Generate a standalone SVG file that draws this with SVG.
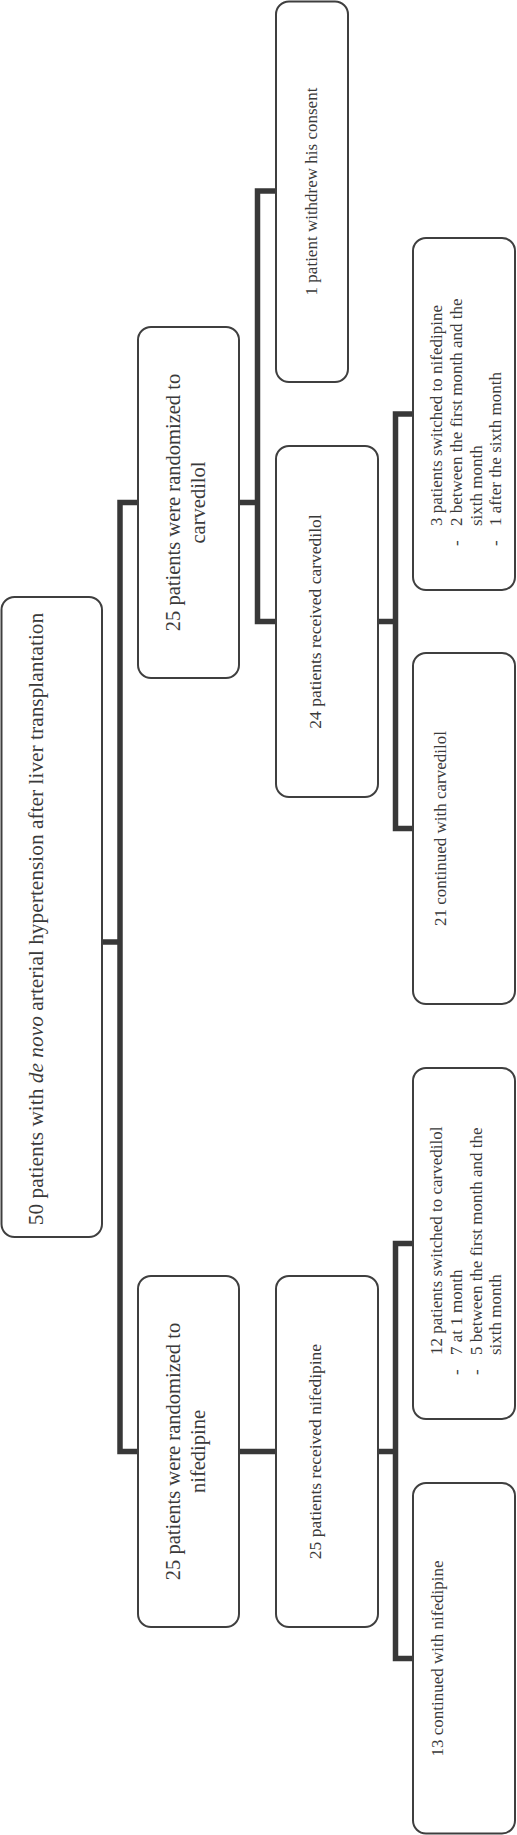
<svg xmlns="http://www.w3.org/2000/svg" width="517" height="1835" viewBox="0 0 517 1835">
<style>
.box{fill:#fff;stroke:#3f3f3f;stroke-width:2}
.con{fill:none;stroke:#383838;stroke-width:5.5;stroke-linejoin:miter;stroke-linecap:square}
text{font-family:"Liberation Serif","Times New Roman",serif;fill:#3a3a3a}
.big{font-size:20.5px}
.sm{font-size:17px}
.mid{text-anchor:middle}
</style>
<rect width="517" height="1835" fill="#fff"/>
<g id="connectors">
<path class="con" d="M102,942 H120 M138,502.5 H120 V1451.5 H138"/>
<path class="con" d="M239,502.5 H257.5 M276,191 H257.5 V621.5 H276"/>
<path class="con" d="M378,621.5 H395.5 M413,414 H395.5 V828.5 H413"/>
<path class="con" d="M239,1451.5 H276 M378,1451.5 H395.5 M413,1243.5 H395.5 V1658.5 H413"/>
</g>
<g id="root">
<rect class="box" x="1.5" y="597" width="100.5" height="640" rx="13"/>
<text transform="translate(43,919) rotate(-90)" class="mid" font-size="21.4">50 patients with <tspan font-style="italic">de novo</tspan> arterial hypertension after liver transplantation</text>
</g>
<g id="rand-carvedilol">
<rect class="box" x="138" y="327" width="101" height="351" rx="13"/>
<text transform="translate(0,502.5) rotate(-90)" class="mid big"><tspan x="0" y="180">25 patients were randomized to</tspan><tspan x="0" y="205">carvedilol</tspan></text>
</g>
<g id="rand-nifedipine">
<rect class="box" x="138" y="1276" width="101" height="351" rx="13"/>
<text transform="translate(0,1451.5) rotate(-90)" class="mid big"><tspan x="0" y="180">25 patients were randomized to</tspan><tspan x="0" y="205">nifedipine</tspan></text>
</g>
<g id="withdrew">
<rect class="box" x="276" y="1.5" width="72" height="380.5" rx="13"/>
<text transform="translate(317,191.5) rotate(-90)" class="mid sm">1 patient withdrew his consent</text>
</g>
<g id="recv-carvedilol">
<rect class="box" x="276" y="446" width="102" height="351" rx="13"/>
<text transform="translate(321,621.5) rotate(-90)" class="mid" font-size="17.5">24 patients received carvedilol</text>
</g>
<g id="recv-nifedipine">
<rect class="box" x="276" y="1276" width="102" height="351" rx="13"/>
<text transform="translate(321,1451.5) rotate(-90)" class="mid" font-size="17.5">25 patients received nifedipine</text>
</g>
<g id="switch-nifedipine">
<rect class="box" x="413" y="238" width="102" height="352" rx="13"/>
<text transform="translate(413,590) rotate(-90)" class="sm"><tspan x="64" y="29">3 patients switched to nifedipine</tspan><tspan x="44" y="49">-</tspan><tspan x="64" y="49">2 between the first month and the</tspan><tspan x="64" y="68.5">sixth month</tspan><tspan x="44" y="88">-</tspan><tspan x="64" y="88">1 after the sixth month</tspan></text>
</g>
<g id="cont-carvedilol">
<rect class="box" x="413" y="653" width="102" height="351" rx="13"/>
<text transform="translate(446,828.5) rotate(-90)" class="mid sm">21 continued with carvedilol</text>
</g>
<g id="switch-carvedilol">
<rect class="box" x="413" y="1068" width="102" height="351" rx="13"/>
<text transform="translate(413,1419) rotate(-90)" class="sm"><tspan x="64" y="29">12 patients switched to carvedilol</tspan><tspan x="44" y="49">-</tspan><tspan x="64" y="49">7 at 1 month</tspan><tspan x="44" y="68.5">-</tspan><tspan x="64" y="68.5">5 between the first month and the</tspan><tspan x="64" y="88">sixth month</tspan></text>
</g>
<g id="cont-nifedipine">
<rect class="box" x="413" y="1483" width="102" height="350.5" rx="13"/>
<text transform="translate(443,1658.5) rotate(-90)" class="mid sm">13 continued with nifedipine</text>
</g>
</svg>
